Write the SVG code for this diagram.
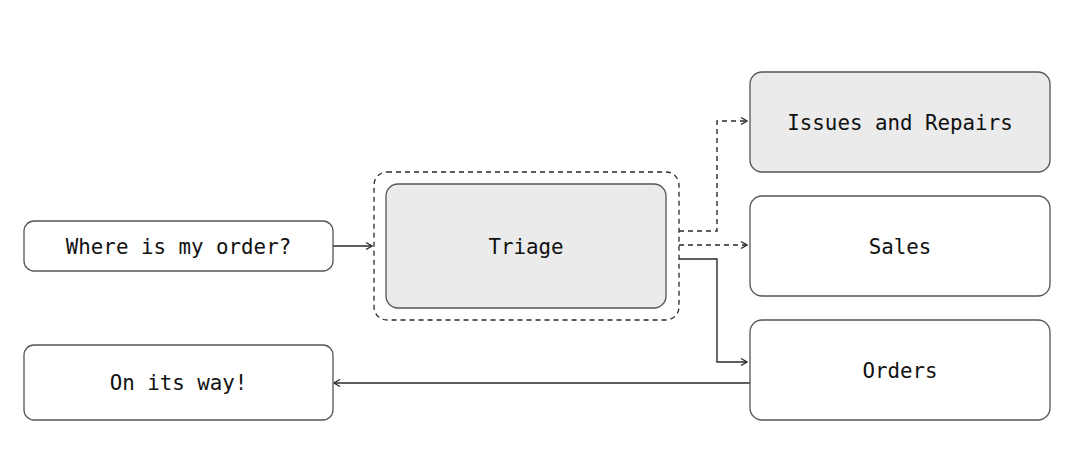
<svg xmlns="http://www.w3.org/2000/svg" width="1080" height="453" viewBox="0 0 1080 453">
<style>
.box{fill:#ffffff;stroke:#555;stroke-width:1.3}
.gray{fill:#ebebeb}
.grp{fill:none;stroke:#2a2a2a;stroke-width:1.3;stroke-dasharray:5 4}
.lbl{font-family:"DejaVu Sans Mono","Liberation Mono",monospace;font-size:20.8px;fill:#111;text-anchor:middle;dominant-baseline:central}
.c{fill:none;stroke:#2a2a2a;stroke-width:1.4}
.d{stroke-dasharray:5 4}
</style>
<defs>
<marker id="ah" viewBox="0 0 10 10" refX="9" refY="5" markerWidth="10" markerHeight="10" markerUnits="userSpaceOnUse" orient="auto">
<path d="M3,1.5 L9,5 L3,8.5" fill="none" stroke="#2a2a2a" stroke-width="1.4"/>
</marker>
</defs>
<rect width="1080" height="453" fill="#ffffff"/>
<g id="connectors">
<path class="c" d="M333,246 H372" marker-end="url(#ah)"/>
<path class="c d" d="M679,231 H717 V121 H747" marker-end="url(#ah)"/>
<path class="c d" d="M679,245 H747" marker-end="url(#ah)"/>
<path class="c" d="M679,259 H717 V362 H747" marker-end="url(#ah)"/>
<path class="c" d="M750,383 H334" marker-end="url(#ah)"/>
</g>
<g id="where">
<rect class="box" x="24" y="221" width="309" height="50" rx="10"/>
<text class="lbl" x="178.5" y="247">Where is my order?</text>
</g>
<g id="triage-group">
<rect class="grp" x="374" y="172" width="305" height="148" rx="13"/>
</g>
<g id="triage">
<rect class="box gray" x="386" y="184" width="280" height="124" rx="12"/>
<text class="lbl" x="526" y="247">Triage</text>
</g>
<g id="issues">
<rect class="box gray" x="750" y="72" width="300" height="100" rx="12"/>
<text class="lbl" x="900" y="123">Issues and Repairs</text>
</g>
<g id="sales">
<rect class="box" x="750" y="196" width="300" height="100" rx="12"/>
<text class="lbl" x="900" y="247">Sales</text>
</g>
<g id="orders">
<rect class="box" x="750" y="320" width="300" height="100" rx="12"/>
<text class="lbl" x="900" y="371">Orders</text>
</g>
<g id="onitsway">
<rect class="box" x="24" y="345" width="309" height="75" rx="10"/>
<text class="lbl" x="178.5" y="383">On its way!</text>
</g>
</svg>
